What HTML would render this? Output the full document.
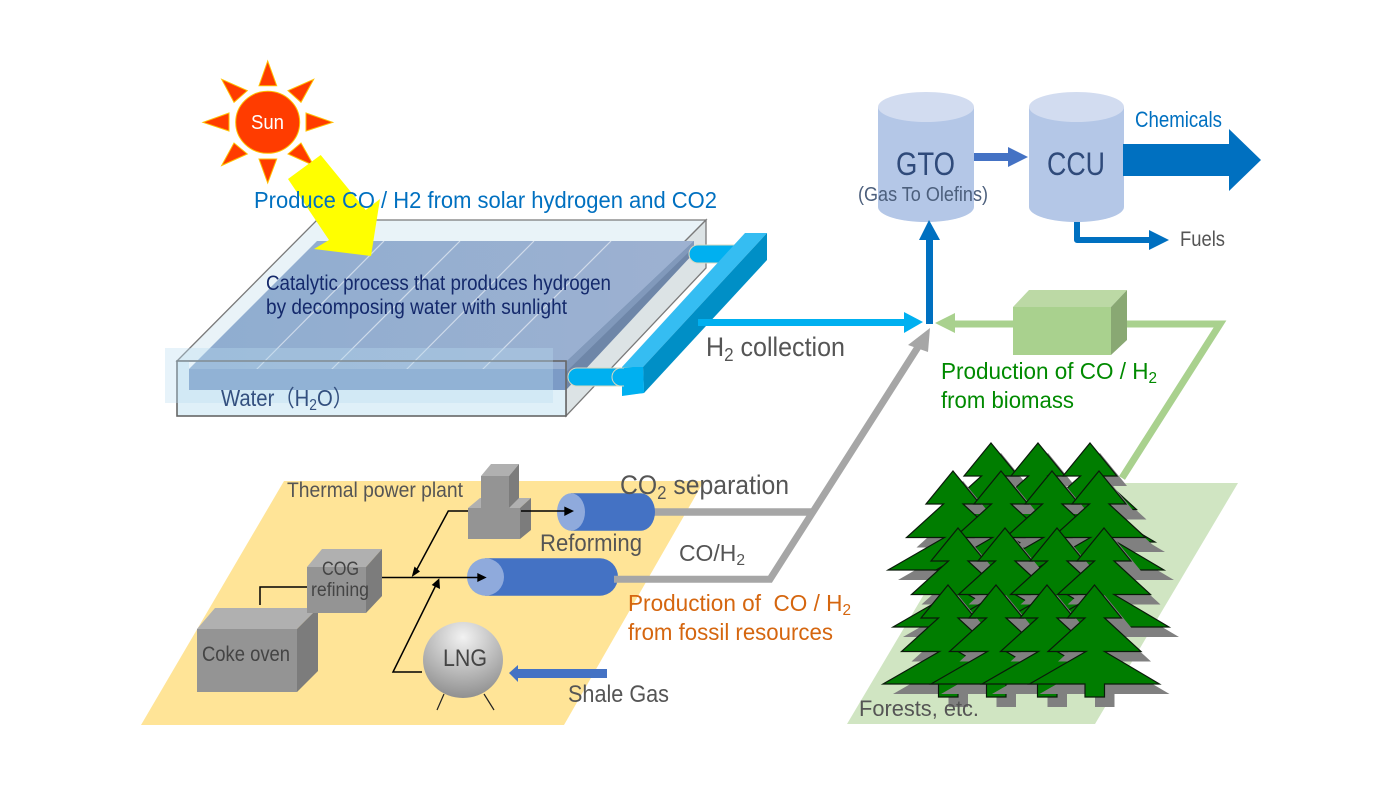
<!DOCTYPE html>
<html><head><meta charset="utf-8"><style>
html,body{margin:0;padding:0;background:#fff;width:1400px;height:800px;overflow:hidden}
svg{display:block;filter:blur(.35px)}
text{font-family:"Liberation Sans","Noto Sans CJK JP",sans-serif}
.s{font-size:.68em}
</style></head><body>
<svg width="1400" height="800" viewBox="0 0 1400 800" xmlns="http://www.w3.org/2000/svg">
<defs>
<radialGradient id="sph" cx="50%" cy="20%" r="85%"><stop offset="0" stop-color="#f2f2f2"/><stop offset="1" stop-color="#8a8a8a"/></radialGradient>
<linearGradient id="plate" x1="0" x2="1" y1="0" y2="0"><stop offset="0" stop-color="#8fadd0"/><stop offset="1" stop-color="#9db1d1"/></linearGradient>
<polygon id="t" points="0,0 27,33 10,33 46.500,66.500 10,66.500 65,99 10,99 10,112 -9.500,112 -9.500,99 -65,99 -8.500,66.500 -46.500,66.500 -9.500,33 -27,33"/>
<g id="tree"><use href="#t" x="10" y="10" fill="#808080"/><use href="#t" fill="#007d00" stroke="#0a1a0a" stroke-width="1.2"/></g>
</defs>

<!-- yellow plane -->
<polygon points="284,481 704,481 564,725 141,725" fill="#ffe497"/>
<!-- forest plane -->
<polygon points="990,483 1238,483 1095,724 847,724" fill="#d0e5c2"/>

<!-- glass box -->
<polygon points="177,361 317,220 706,220 566,361" fill="#e9f3f8" stroke="#7a7a7a" stroke-width="1.3"/>
<polygon points="566,361 706,220 706,268 566,416" fill="#dce3e5" stroke="#7a7a7a" stroke-width="1.3"/>
<!-- plate -->
<polygon points="317,241 694,241 566,369 189,369" fill="url(#plate)"/>
<polygon points="566,362 694,241 694,253 566,390" fill="#6e86a8"/>
<polygon points="566,362 694,241 694,247 566,372" fill="#8199bb"/>
<!-- pipe top -->
<path d="M738,245 L698,245 A9,9 0 0 0 698,263 L738,263 Z" fill="#00b0f0" stroke="#d8d8c0" stroke-width="1"/>
<g stroke="#fff" stroke-opacity=".55" stroke-width="1.2">
<line x1="384" y1="241" x2="254" y2="372"/><line x1="460" y1="241" x2="329" y2="372"/><line x1="534" y1="241" x2="404" y2="372"/><line x1="611" y1="241" x2="480" y2="372"/>
</g>
<rect x="177" y="390" width="389" height="26" fill="#dff0f8"/>
<rect x="189" y="369" width="377" height="21" fill="#7c9bc6"/>
<rect x="177" y="361" width="12" height="55" fill="#dff0f8"/>
<rect x="177" y="361" width="389" height="55" fill="none" stroke="#666" stroke-width="1.6"/>
<rect x="165" y="348" width="388" height="55" fill="#b9dcf0" fill-opacity=".35"/>

<!-- collector -->
<polygon points="745,233 767,233 643,367 622,367" fill="#35bdf2"/>
<polygon points="767,233 767,260 644,393 643,367" fill="#008fc6"/>
<polygon points="622,367 643,367 644,393 622,396" fill="#00b0f0"/>
<path d="M622,368 L577,368 A9,9 0 0 0 577,386 L622,386 Z" fill="#00b0f0" stroke="#d8d8c0" stroke-width="1"/>
<path d="M632,368 L621,368 A9,9 0 0 0 621,386 L632,386 Z" fill="#00b0f0" stroke="#d8d8c0" stroke-width="1"/>
<polygon points="624,368 643,367 644,393 624,395" fill="#00b0f0"/>

<!-- sun -->
<g fill="#ff3c00" stroke="#ffc000" stroke-width="1" stroke-linejoin="miter">
<polygon points="267.700,61 259,85.700 276.700,85.700"/><polygon points="267.700,183 259,159 276.700,159"/>
<polygon points="203,122.300 229,113 229,131"/><polygon points="332.700,122.300 306,113 306,131"/>
<polygon points="221.700,79.300 247.300,90.700 234,102.300"/><polygon points="313.700,79.300 288,90.700 301,102.300"/>
<polygon points="221.700,165.500 234,143 247.300,154"/><polygon points="313.700,165.500 301,143 288,154"/>
<ellipse cx="267.700" cy="122.300" rx="32" ry="31"/>
</g>
<!-- yellow arrow -->
<polygon points="320.700,155 288,179 329,240 314,249 371,256 380,199 365.700,210" fill="#ffff00"/>

<!-- cylinders top right -->
<g>
<path d="M878,107 V207 A48,15 0 0 0 974,207 V107 Z" fill="#b4c7e7"/><ellipse cx="926" cy="107" rx="48" ry="15" fill="#d2dcf0"/>
<path d="M1029,107 V207 A47.5,15 0 0 0 1124,207 V107 Z" fill="#b4c7e7"/><ellipse cx="1076.500" cy="107" rx="47.500" ry="15" fill="#d2dcf0"/>
</g>
<polygon points="974,153 1008,153 1008,147 1028,157 1008,167 1008,161 974,161" fill="#4472c4"/>
<polygon points="1123,144 1229,144 1229,129 1261,160 1229,191 1229,176 1123,176" fill="#0070c0"/>
<path d="M1077,222 V240 H1150" fill="none" stroke="#0070c0" stroke-width="6" stroke-linejoin="round"/>
<polygon points="1149,230 1169,240 1149,250" fill="#0070c0"/>
<!-- vertical -->
<rect x="926" y="238" width="7" height="86" fill="#0070c0"/>
<polygon points="929,220 919,240 940,240" fill="#0070c0"/>
<!-- H2 arrow -->
<rect x="698" y="319" width="208" height="7" fill="#00b0f0"/>
<polygon points="904,312 923,322 904,333" fill="#00b0f0"/>
<!-- green line -->
<path d="M953,324 H1220 L1122,478" fill="none" stroke="#a9d18e" stroke-width="7" stroke-linejoin="miter"/>
<polygon points="935,323 955,313 955,333" fill="#a9d18e"/>
<polygon points="1013,307 1029,290 1127,290 1111,307" fill="#bcd9a5"/>
<polygon points="1111,307 1127,290 1127,340 1111,355" fill="#89a873"/>
<rect x="1013" y="307" width="98" height="48" fill="#a9d18e"/>

<!-- blocks -->
<polygon points="197,629 215,608 318,608 297,629" fill="#b0b0b0"/>
<polygon points="297,629 318,608 318,671 297,692" fill="#7c7c7c"/>
<rect x="197" y="629" width="100" height="63" fill="#949494"/>
<polygon points="307,567 322,549 382,549 366,567" fill="#b0b0b0"/>
<polygon points="366,567 382,549 382,596 366,613" fill="#7c7c7c"/>
<rect x="307" y="567" width="59" height="46" fill="#949494"/>
<polygon points="468,508 480,498 531,498 520,508" fill="#b0b0b0"/>
<polygon points="520,508 531,498 531,530 520,539" fill="#7c7c7c"/>
<rect x="468" y="508" width="52" height="31" fill="#949494"/>
<polygon points="481,476 491,464 519,464 509,476" fill="#b0b0b0"/>
<polygon points="509,476 519,464 519,498 509,508" fill="#7c7c7c"/>
<rect x="481" y="476" width="28" height="32" fill="#949494"/>
<!-- gray lines & tanks -->
<path d="M650,512 H812" fill="none" stroke="#a6a6a6" stroke-width="7.500"/>
<path d="M571,493.300 H641 A14,18.700 0 0 1 641,530.700 H571 Z" fill="#4472c4"/><ellipse cx="571" cy="512" rx="14" ry="18.700" fill="#8faadc"/>
<path d="M485,558.300 H600 A18,18.700 0 0 1 600,595.700 H485 Z" fill="#4472c4"/><ellipse cx="485.500" cy="577" rx="18.500" ry="18.700" fill="#8faadc"/>
<path d="M614,579.300 H770 L918,347" fill="none" stroke="#a6a6a6" stroke-width="7" stroke-linejoin="miter"/>
<polygon points="930,328 908,345 928,352" fill="#a6a6a6"/>
<!-- black lines -->
<g fill="none" stroke="#000" stroke-width="1.500">
<path d="M521,511 H566"/><path d="M468,511 H448.300 L416,571"/><path d="M382,577.500 H479"/>
<path d="M422,672 H393 L436,585"/><path d="M260,605 V587 H307"/>
</g>
<polygon points="564.300,506.500 574,511 564.300,516" fill="#000"/>
<polygon points="477.300,573 486.700,577.500 477.300,582" fill="#000"/>
<polygon points="411.700,577 414.500,566.500 420,571.500" fill="#000"/>
<polygon points="439.300,578.300 431.700,585 440,589" fill="#000"/>
<!-- LNG -->
<ellipse cx="463" cy="660" rx="40" ry="38" fill="url(#sph)"/>
<path d="M444,694 L437,710 M484,694 L494,710" stroke="#222" stroke-width="1.2" fill="none"/>
<polygon points="607,669 518,669 518,665 509,673 518,682 518,678 607,678" fill="#4472c4"/>

<!-- trees -->
<use href="#tree" x="991" y="443"/><use href="#tree" x="1038" y="443"/><use href="#tree" x="1090" y="443"/>
<use href="#tree" x="953" y="471"/><use href="#tree" x="1001" y="471"/><use href="#tree" x="1052" y="471"/><use href="#tree" x="1099" y="471"/>
<use href="#tree" x="958" y="528"/><use href="#tree" x="1005" y="528"/><use href="#tree" x="1057" y="528"/><use href="#tree" x="1104" y="528"/>
<use href="#tree" x="948" y="585"/><use href="#tree" x="996" y="585"/><use href="#tree" x="1047" y="585"/><use href="#tree" x="1094.500" y="585"/>

<!-- text -->
<text x="251" y="129" font-size="20" fill="#fff" textLength="33" lengthAdjust="spacingAndGlyphs">Sun</text>
<text x="254" y="208" font-size="23.500" fill="#0070c0" textLength="463" lengthAdjust="spacingAndGlyphs">Produce CO / H2 from solar hydrogen and CO2</text>
<text x="266" y="290" font-size="21" fill="#14296b" textLength="345" lengthAdjust="spacingAndGlyphs">Catalytic process that produces hydrogen</text>
<text x="266" y="314" font-size="21" fill="#14296b" textLength="301" lengthAdjust="spacingAndGlyphs">by decomposing water with sunlight</text>
<text x="221" y="406" font-size="23" fill="#34507f" textLength="132" lengthAdjust="spacingAndGlyphs">Water（H<tspan class="s" dy="4">2</tspan><tspan dy="-4">O）</tspan></text>
<text x="706" y="356" font-size="27" fill="#555" textLength="139" lengthAdjust="spacingAndGlyphs">H<tspan class="s" dy="5">2</tspan><tspan dy="-5"> collection</tspan></text>
<text x="896" y="175" font-size="32" fill="#2f4a7a" textLength="59" lengthAdjust="spacingAndGlyphs">GTO</text>
<text x="858" y="201" font-size="20" fill="#4c5f7c" textLength="130" lengthAdjust="spacingAndGlyphs">(Gas To Olefins)</text>
<text x="1047" y="175" font-size="32" fill="#2f4a7a" textLength="58" lengthAdjust="spacingAndGlyphs">CCU</text>
<text x="1135" y="127" font-size="22" fill="#0070c0" textLength="87" lengthAdjust="spacingAndGlyphs">Chemicals</text>
<text x="1180" y="246" font-size="21" fill="#555" textLength="45" lengthAdjust="spacingAndGlyphs">Fuels</text>
<text x="941" y="379" font-size="23.500" fill="#008a00" textLength="216" lengthAdjust="spacingAndGlyphs">Production of CO / H<tspan class="s" dy="4">2</tspan></text>
<text x="941" y="408" font-size="23.500" fill="#008a00" textLength="133" lengthAdjust="spacingAndGlyphs">from biomass</text>
<text x="287" y="497" font-size="21" fill="#555" textLength="176" lengthAdjust="spacingAndGlyphs">Thermal power plant</text>
<text x="620" y="494" font-size="27" fill="#555" textLength="169" lengthAdjust="spacingAndGlyphs">CO<tspan class="s" dy="5">2</tspan><tspan dy="-5"> separation</tspan></text>
<text x="540" y="551" font-size="24" fill="#555" textLength="102" lengthAdjust="spacingAndGlyphs">Reforming</text>
<text x="679" y="561" font-size="23" fill="#555" textLength="66" lengthAdjust="spacingAndGlyphs">CO/H<tspan class="s" dy="4">2</tspan></text>
<text x="628" y="611" font-size="23.500" fill="#d5660f" textLength="223" lengthAdjust="spacingAndGlyphs" xml:space="preserve">Production of  CO / H<tspan class="s" dy="4">2</tspan></text>
<text x="628" y="640" font-size="23.500" fill="#d5660f" textLength="205" lengthAdjust="spacingAndGlyphs">from fossil resources</text>
<text x="568" y="702" font-size="24" fill="#555" textLength="101" lengthAdjust="spacingAndGlyphs">Shale Gas</text>
<text x="443" y="666" font-size="24" fill="#444" textLength="44" lengthAdjust="spacingAndGlyphs">LNG</text>
<text x="322" y="575" font-size="19" fill="#444" textLength="37" lengthAdjust="spacingAndGlyphs">COG</text>
<text x="311" y="596" font-size="19" fill="#444" textLength="58" lengthAdjust="spacingAndGlyphs">refining</text>
<text x="202" y="661" font-size="21" fill="#444" textLength="88" lengthAdjust="spacingAndGlyphs">Coke oven</text>
<text x="859" y="716" font-size="22" fill="#555" textLength="120" lengthAdjust="spacingAndGlyphs">Forests, etc.</text>
</svg>
</body></html>
